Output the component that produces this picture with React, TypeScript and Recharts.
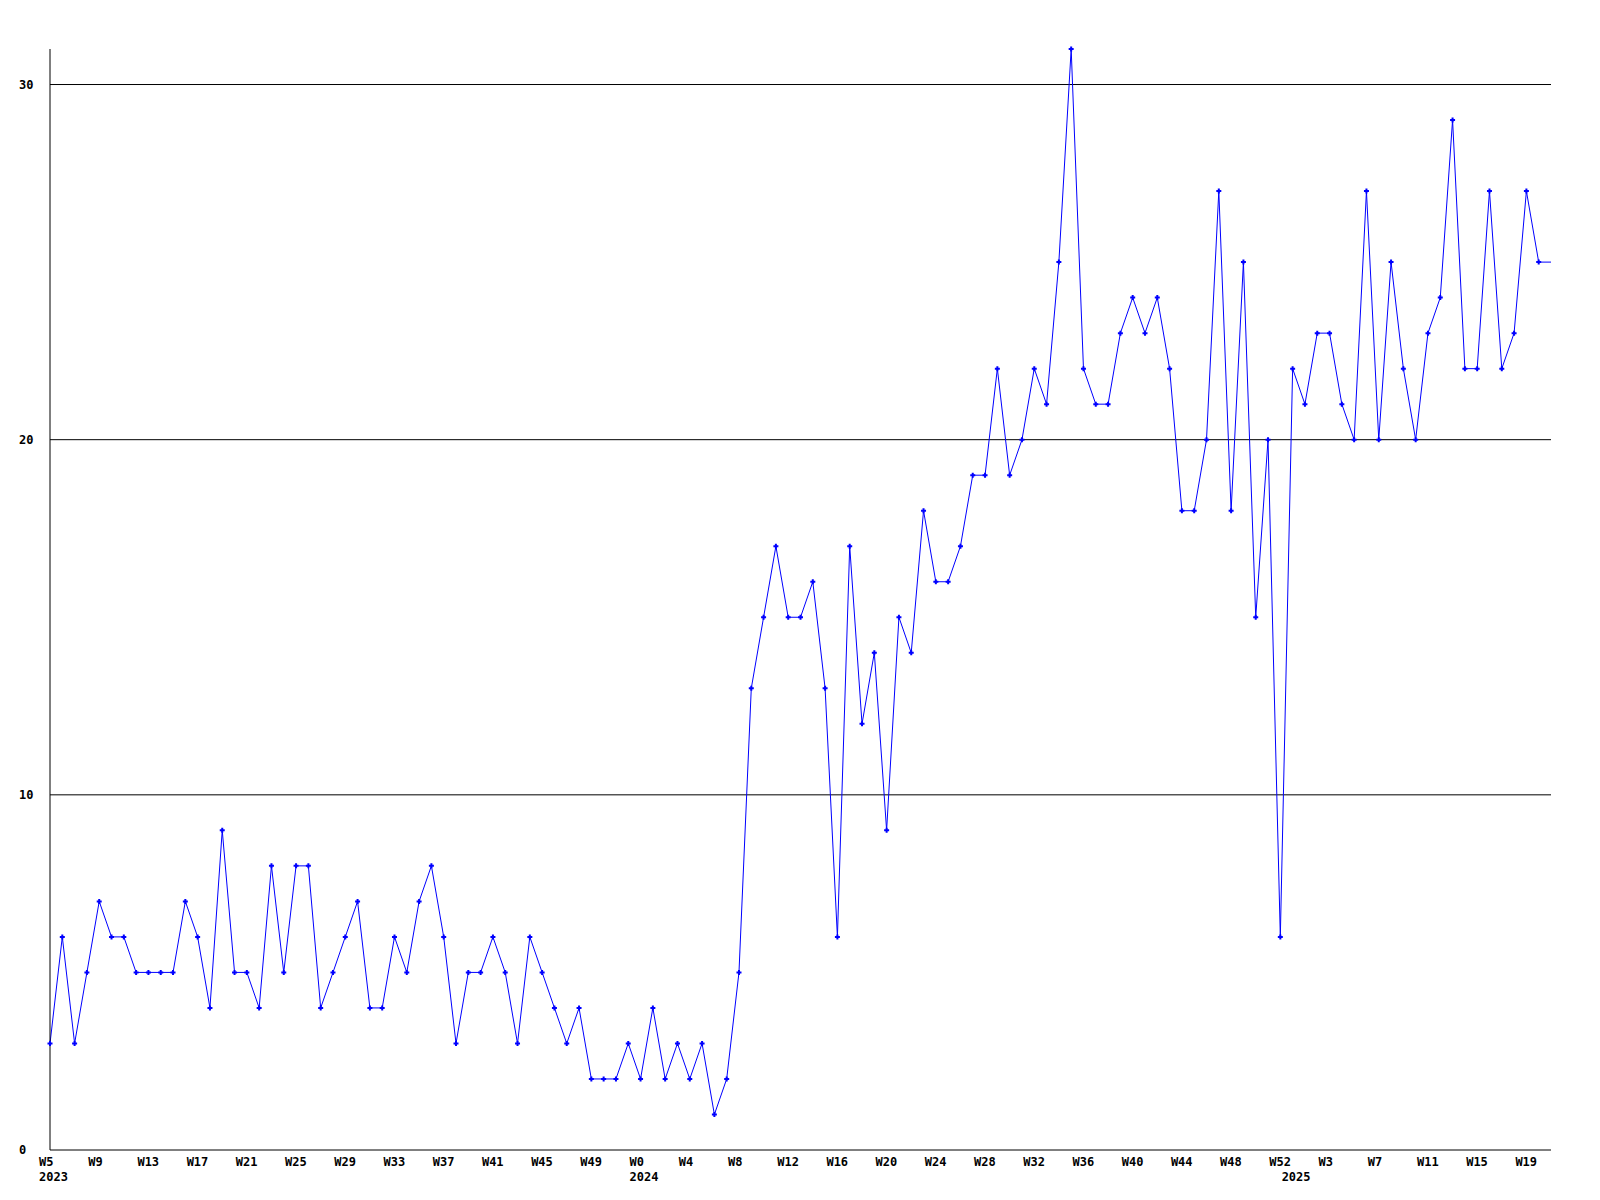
import React from 'react';
import { LineChart, Line, XAxis, YAxis, ReferenceLine } from 'recharts';

// weekly counts, one array per year
const values2023 = [
  3, 6, 3, 5, 7, 6, 6, 5, 5, 5,
  5, 7, 6, 4, 9, 5, 5, 4, 8, 5,
  8, 8, 4, 5, 6, 7, 4, 4, 6, 5,
  7, 8, 6, 3, 5, 5, 6, 5, 3, 6,
  5, 4, 3, 4, 2, 2, 2, 3,
];
const values2024 = [
  2, 4,
  2, 3, 2, 3, 1, 2, 5, 13, 15, 17,
  15, 15, 16, 13, 6, 17, 12, 14, 9, 15,
  14, 18, 16, 16, 17, 19, 19, 22, 19, 20,
  22, 21, 25, 31, 22, 21, 21, 23, 24, 23,
  24, 22, 18, 18, 20, 27, 18, 25, 15, 20, 6,
];
const values2025 = [
  22, 21, 23, 23, 21, 20, 27, 20, 25, 22, 20,
  23, 24, 29, 22, 22, 27, 22, 23, 27, 25, 25,
];

const years = [
  { year: 2023, firstWeek: 5, values: values2023 },
  { year: 2024, firstWeek: 0, values: values2024 },
  { year: 2025, firstWeek: 0, values: values2025 },
];

const yTicks = [0, 10, 20, 30];
const labelEvery = 4;

type Row = { i: number; week: string; year: number | null; count: number };

const data: Row[] = [];
years.forEach(({ year, firstWeek, values }) => {
  values.forEach((v, k) => {
    data.push({
      i: data.length,
      week: `W${firstWeek + k}`,
      year: k === 0 ? year : null,
      count: v,
    });
  });
});
const lastIndex = data.length - 1;

const FONT = '"DejaVu Sans Mono", monospace';
const PLOT_BOTTOM = 1150;

const WeekTick = (props: any) => {
  const { x, payload } = props;
  const row = data[payload.value];
  if (!row) return null;
  const showWeek = row.i % labelEvery === 0;
  if (!showWeek && row.year === null) return null;
  return (
    <g>
      {showWeek && (
        <text x={x - 11} y={PLOT_BOTTOM + 16} textAnchor="start" fontFamily={FONT} fontWeight="bold" fontSize={12} fill="#000">
          {row.week}
        </text>
      )}
      {row.year !== null && (
        <text x={x - 11} y={PLOT_BOTTOM + 31} textAnchor="start" fontFamily={FONT} fontWeight="bold" fontSize={12} fill="#000">
          {row.year}
        </text>
      )}
    </g>
  );
};

const CountTick = (props: any) => {
  const { y, payload } = props;
  return (
    <text x={19} y={y + 4} textAnchor="start" fontFamily={FONT} fontWeight="bold" fontSize={12} fill="#000">
      {payload.value}
    </text>
  );
};

const PlusDot = (props: any) => {
  const { cx, cy, index } = props;
  if (index === lastIndex || cx == null || cy == null) return <g key={`d${index}`} />;
  return (
    <path
      key={`d${index}`}
      d={`M${cx - 2.5},${cy - 1} h1.5 v-1.5 h2 v1.5 h1.5 v2 h-1.5 v1.5 h-2 v-1.5 h-1.5 z`}
      fill="#0000ff"
    />
  );
};

export default function App() {
  return (
    <div style={{ position: 'absolute', left: 0, top: 0, width: 1600, height: 1200, background: '#fff' }}>
      <LineChart width={1600} height={1200} data={data} margin={{ top: 49, right: 49, bottom: 0, left: 0 }}>
        <XAxis
          dataKey="i"
          type="number"
          domain={[0, lastIndex]}
          ticks={data.map((d) => d.i)}
          interval={0}
          tick={<WeekTick />}
          tickLine={false}
          axisLine={{ stroke: '#000', strokeWidth: 1 }}
          height={50}
          allowDecimals={false}
        />
        <YAxis
          type="number"
          domain={[0, 31]}
          ticks={yTicks}
          interval={0}
          tick={<CountTick />}
          tickLine={false}
          axisLine={{ stroke: '#000', strokeWidth: 1 }}
          width={50}
        />
        {yTicks.filter((t) => t > 0).map((t) => (
          <ReferenceLine key={t} y={t} stroke="#000" strokeWidth={1} />
        ))}
        <Line
          type="linear"
          dataKey="count"
          stroke="#0000ff"
          strokeWidth={1}
          dot={<PlusDot />}
          activeDot={false}
          isAnimationActive={false}
        />
      </LineChart>
    </div>
  );
}
